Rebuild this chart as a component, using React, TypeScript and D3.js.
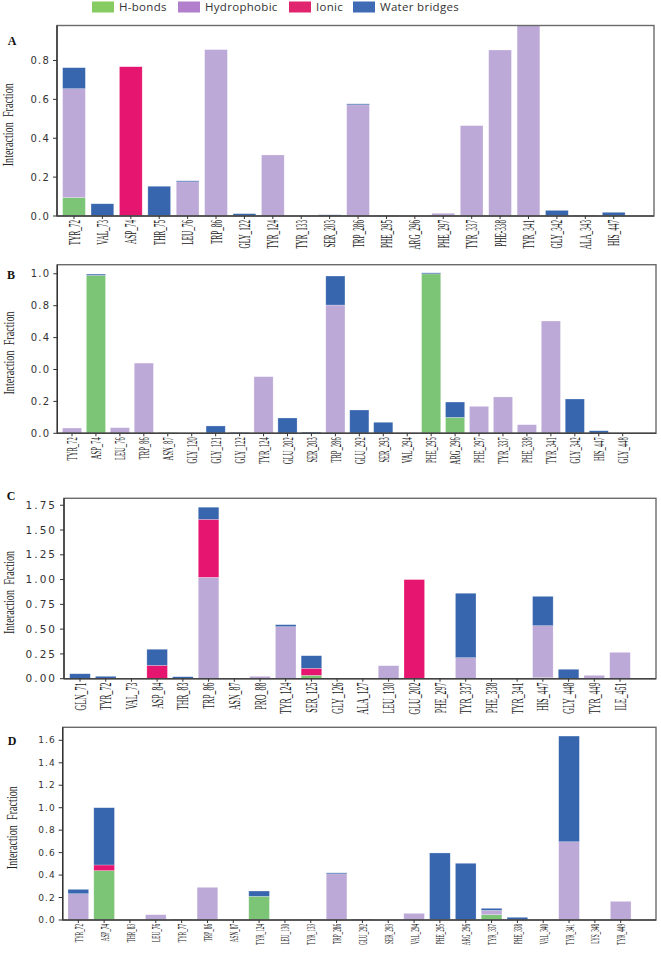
import React from 'react';
import * as d3 from 'd3';

// colours of the four interaction types
const SERIES = ['H-bonds', 'Hydrophobic', 'Ionic', 'Water bridges'];
const BAR_COLORS = ['#7dc576', '#bda9d7', '#e6156f', '#3866ae'];
const LEGEND_COLORS = ['#86cc62', '#b27fcc', '#e0256e', '#3e6bb4'];

// Panel A
const catsA = ['TYR_72', 'VAL_73', 'ASP_74', 'THR_75', 'LEU_76', 'TRP_86', 'GLY_122', 'TYR_124', 'TYR_133', 'SER_203', 'TRP_286', 'PHE_295', 'ARG_296', 'PHE_297', 'TYR_337', 'PHE-338', 'TYR_341', 'GLY_342', 'ALA_343', 'HIS_447'];
const hbondA = [0.095, 0, 0, 0, 0, 0, 0, 0, 0, 0, 0, 0, 0, 0, 0, 0, 0, 0, 0, 0];
const hydroA = [0.56, 0, 0, 0, 0.177, 0.856, 0, 0.314, 0, 0, 0.572, 0, 0, 0.014, 0.465, 0.854, 1.0, 0, 0, 0];
const ionicA = [0, 0, 0.768, 0, 0, 0, 0, 0, 0, 0, 0, 0, 0, 0, 0, 0, 0, 0, 0, 0];
const waterA = [0.108, 0.063, 0, 0.153, 0.004, 0, 0.012, 0, 0, 0.006, 0.005, 0.003, 0, 0, 0, 0, 0, 0.029, 0.003, 0.019];
const ticksA = [0, 0.2, 0.4, 0.6, 0.8];
const tickLabelsA = ['0.0', '0.2', '0.4', '0.6', '0.8'];

// Panel B
const catsB = ['TYR_72', 'ASP_74', 'LEU_76', 'TRP_86', 'ASN_87', 'GLY_120', 'GLY_121', 'GLY_122', 'TYR_124', 'GLU_202', 'SER_203', 'TRP_286', 'GLU_292', 'SER_293', 'VAL_294', 'PHE_295', 'ARG_296', 'PHE_297', 'TYR_337', 'PHE_338', 'TYR_341', 'GLY_342', 'HIS_447', 'GLY_448'];
const hbondB = [0, 0.99, 0, 0, 0.005, 0, 0, 0, 0, 0, 0, 0, 0, 0, 0, 1.0, 0.1, 0, 0, 0, 0, 0, 0, 0];
const hydroB = [0.033, 0, 0.035, 0.44, 0, 0, 0, 0, 0.355, 0, 0, 0.804, 0, 0, 0.003, 0, 0, 0.169, 0.228, 0.054, 0.704, 0, 0, 0];
const ionicB = [0, 0, 0, 0, 0, 0, 0, 0, 0, 0, 0, 0, 0, 0, 0, 0, 0, 0, 0, 0, 0, 0, 0, 0];
const waterB = [0, 0.008, 0, 0, 0, 0, 0.046, 0.005, 0, 0.096, 0.007, 0.182, 0.146, 0.069, 0, 0.006, 0.096, 0, 0, 0, 0, 0.215, 0.016, 0];
const ticksB = [0, 0.2, 0.4, 0.6, 0.8, 1.0];
const tickLabelsB = ['0.0', '0.2', '0.0', '0.4', '0.8', '1.0'];

// Panel C
const catsC = ['GLN_71', 'TYR_72', 'VAL_73', 'ASP_84', 'THR_83', 'TRP_86', 'ASN_87', 'PRO_88', 'TYR_124', 'SER_125', 'GLY_126', 'ALA_127', 'LEU_130', 'GLU_202', 'PHE_297', 'TYR_337', 'PHE_338', 'TYR_341', 'HIS_447', 'GLY_448', 'TYR_449', 'ILE_451'];
const hbondC = [0, 0, 0, 0, 0, 0, 0, 0, 0, 0.034, 0.005, 0, 0, 0, 0, 0, 0, 0, 0.01, 0, 0, 0];
const hydroC = [0, 0, 0.003, 0, 0, 1.023, 0, 0.024, 0.525, 0, 0, 0.004, 0.131, 0, 0.004, 0.212, 0.004, 0.002, 0.525, 0, 0.034, 0.266];
const ionicC = [0, 0, 0, 0.135, 0, 0.585, 0, 0, 0, 0.071, 0, 0, 0, 1.0, 0, 0, 0, 0, 0, 0, 0, 0];
const waterC = [0.05, 0.024, 0, 0.162, 0.02, 0.122, 0.004, 0, 0.02, 0.127, 0, 0, 0, 0, 0, 0.65, 0, 0, 0.296, 0.095, 0, 0];
const ticksC = [0, 0.25, 0.5, 0.75, 1.0, 1.25, 1.5, 1.75];
const tickLabelsC = ['0.00', '0.25', '0.50', '0.75', '1.00', '1.25', '1.50', '1.75'];

// Panel D
const catsD = ['TYR_72', 'ASP_74', 'THR_83', 'LEU_76', 'TYR_77', 'TRP_86', 'ASN_87', 'TYR_124', 'LEU_130', 'TYR_133', 'TRP_286', 'GLU_292', 'SER_293', 'VAL_294', 'PHE_295', 'ARG_296', 'TYR_337', 'PHE_338', 'VAL_340', 'TYR_341', 'LYS_348', 'TYR_449'];
const hbondD = [0, 0.44, 0, 0, 0, 0, 0, 0.211, 0, 0, 0, 0, 0, 0, 0.005, 0, 0.047, 0, 0, 0, 0, 0];
const hydroD = [0.234, 0, 0, 0.047, 0, 0.291, 0, 0, 0, 0.003, 0.412, 0, 0, 0.059, 0, 0, 0.039, 0, 0, 0.697, 0, 0.166];
const ionicD = [0, 0.05, 0, 0, 0, 0, 0, 0, 0, 0, 0, 0, 0, 0, 0, 0, 0, 0, 0, 0, 0, 0];
const waterD = [0.039, 0.51, 0, 0, 0.006, 0, 0, 0.047, 0, 0, 0.008, 0.008, 0, 0, 0.592, 0.505, 0.018, 0.024, 0, 0.941, 0, 0];
const ticksD = [0, 0.2, 0.4, 0.6, 0.8, 1.0, 1.2, 1.4, 1.6];
const tickLabelsD = ['0.0', '0.2', '0.4', '0.6', '0.8', '1.0', '1.2', '1.4', '1.6'];

interface PanelProps {
  letter: string;
  cats: string[];
  series: number[][];
  ticks: number[];
  tickLabels: string[];
  left: number;
  right: number;
  top: number;
  bottom: number;
  yMax: number;
  firstX: number;
  lastX: number;
  letterPos: [number, number];
  titleX: number;
  tickFont: number;
  tickSpacing: number;
  labelFont: number;
  labelScale: number;
}

const Panel: React.FC<PanelProps> = (p) => {
  const x = d3.scalePoint<string>().domain(p.cats).range([p.firstX, p.lastX]);
  const bw = x.step() * 0.8;
  const y = d3.scaleLinear().domain([0, p.yMax]).range([p.bottom, p.top]);
  const rows = p.cats.map((c, i) => {
    const r: any = { cat: c };
    SERIES.forEach((s, k) => (r[s] = p.series[k][i]));
    return r;
  });
  const stacked = d3.stack().keys(SERIES)(rows);
  const clipId = 'clip' + p.letter;

  return (
    <g>
      <defs>
        <clipPath id={clipId}>
          <rect x={p.left} y={p.top} width={p.right - p.left} height={p.bottom - p.top} />
        </clipPath>
      </defs>
      <g clipPath={`url(#${clipId})`}>
        {stacked.map((layer, k) =>
          layer.map((d, i) => {
            const h = y(d[0]) - y(d[1]);
            if (h <= 0) return null;
            return (
              <rect
                key={`${k}-${i}`}
                x={x(p.cats[i])! - bw / 2}
                y={y(d[1])}
                width={bw}
                height={Math.max(h, 1)}
                fill={BAR_COLORS[k]}
                stroke="#ffffff"
                strokeOpacity={0.4}
                strokeWidth={0.6}
              />
            );
          })
        )}
      </g>
      <rect x={p.left} y={p.top} width={p.right - p.left} height={p.bottom - p.top}
        fill="none" stroke="#6b6b6b" strokeWidth={1.4} />
      <line x1={p.left} x2={p.left} y1={p.top} y2={p.bottom} stroke="#333" strokeWidth={1.4} />
      <line x1={p.left} x2={p.right} y1={p.bottom} y2={p.bottom} stroke="#444" strokeWidth={1.4} />
      {p.ticks.map((t, i) => (
        <g key={'yt' + i}>
          <line x1={p.left - 4} x2={p.left} y1={y(t)} y2={y(t)} stroke="#333" />
          <text x={p.left - 7} y={y(t)} dy="0.35em" textAnchor="end" fontFamily="DejaVu Sans"
            fontSize={p.tickFont} letterSpacing={p.tickSpacing} fill="#333">{p.tickLabels[i]}</text>
        </g>
      ))}
      {p.cats.map((c) => (
        <g key={'xt' + c}>
          <line x1={x(c)} x2={x(c)} y1={p.bottom} y2={p.bottom + 3} stroke="#333" />
          <text transform={`translate(${x(c)},${p.bottom + 4}) rotate(-90) scale(${p.labelScale},1)`}
            textAnchor="end" dy="0.35em" fontFamily="Liberation Serif" fontSize={p.labelFont} fill="#222">{c}</text>
        </g>
      ))}
      <text transform={`translate(${p.titleX},${(p.top + p.bottom) / 2 + 4}) rotate(-90) scale(0.68,1)`}
        textAnchor="middle" dy="0.35em" fontFamily="Liberation Serif" fontSize={15} fill="#222">
        Interaction{'\u00a0\u00a0'}Fraction
      </text>
      <text x={p.letterPos[0]} y={p.letterPos[1]} dy="0.35em" textAnchor="middle"
        fontFamily="Liberation Serif" fontWeight="bold" fontSize={12} fill="#111">{p.letter}</text>
    </g>
  );
};

export default function App() {
  const legendX = [92, 178, 289, 353];
  return (
    <div style={{ position: 'absolute', left: 0, top: 0 }}>
      <svg width={661} height={956} viewBox="0 0 661 956" style={{ display: 'block', background: '#fff' }}>
        {SERIES.map((s, k) => (
          <g key={s}>
            <rect x={legendX[k]} y={1.5} width={22} height={11} fill={LEGEND_COLORS[k]} />
            <text x={legendX[k] + 27} y={7} dy="0.35em" fontFamily="Open Sans" fontSize={11.5}
              letterSpacing={0.3} fill="#333">{s}</text>
          </g>
        ))}
        <Panel letter="A" cats={catsA} series={[hbondA, hydroA, ionicA, waterA]}
          ticks={ticksA} tickLabels={tickLabelsA}
          left={57} right={654} top={25.5} bottom={216} yMax={0.98}
          firstX={74} lastX={613.7} letterPos={[12, 41]} titleX={8}
          tickFont={10} tickSpacing={1.2} labelFont={16} labelScale={0.45} />
        <Panel letter="B" cats={catsB} series={[hbondB, hydroB, ionicB, waterB]}
          ticks={ticksB} tickLabels={tickLabelsB}
          left={57.3} right={656} top={264.7} bottom={433.3} yMax={1.057}
          firstX={72} lastX={622.7} letterPos={[11, 275]} titleX={9}
          tickFont={10} tickSpacing={1.2} labelFont={15} labelScale={0.44} />
        <Panel letter="C" cats={catsC} series={[hbondC, hydroC, ionicC, waterC]}
          ticks={ticksC} tickLabels={tickLabelsC}
          left={64} right={656} top={498.3} bottom={678.7} yMax={1.82}
          firstX={80} lastX={620} letterPos={[11, 496]} titleX={9}
          tickFont={10.5} tickSpacing={2} labelFont={16} labelScale={0.49} />
        <Panel letter="D" cats={catsD} series={[hbondD, hydroD, ionicD, waterD]}
          ticks={ticksD} tickLabels={tickLabelsD}
          left={62.7} right={656} top={727.3} bottom={920} yMax={1.716}
          firstX={78.3} lastX={620.7} letterPos={[12, 741]} titleX={12}
          tickFont={9} tickSpacing={1} labelFont={13} labelScale={0.4} />
      </svg>
    </div>
  );
}
